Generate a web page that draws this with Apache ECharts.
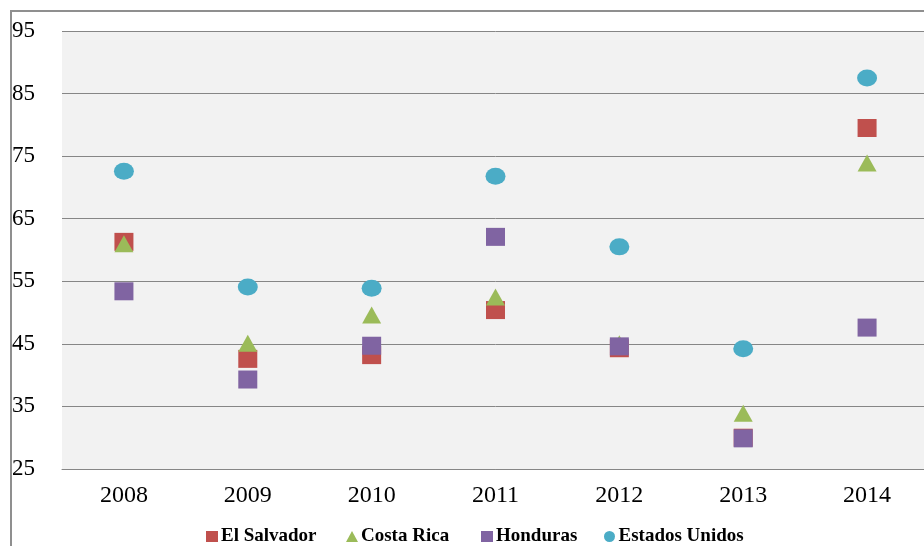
<!DOCTYPE html>
<html>
<head>
<meta charset="utf-8">
<script src="https://cdn.jsdelivr.net/npm/echarts@6/dist/echarts.min.js"></script>
<style>
  html, body { margin: 0; padding: 0; background: #ffffff; overflow: hidden; }
  /* The plot runs a few pixels past the right edge of the window */
  #chart { width: 929px; height: 546px; }
</style>
</head>
<body>
<div id="chart"></div>
<script>
// Years on the category axis
const years = ['2008', '2009', '2010', '2011', '2012', '2013', '2014'];

// One value per year for each country
const elSalvador    = [61.3, 42.6, 43.2, 50.4, 44.3, 30.0, 79.5];
const costaRica     = [61.0, 45.1, 49.6, 52.5, 45.0, 33.9, 73.9];
const honduras      = [53.4, 39.3, 44.7, 62.1, 44.6, 29.9, 47.6];
const estadosUnidos = [72.6, 54.1, 53.9, 71.8, 60.5, 44.2, 87.5];

const seriesNames = ['El Salvador', 'Costa Rica', 'Honduras', 'Estados Unidos'];

// Value axis range
const yMin = 25;
const yMax = 95;
const yStep = 10;

const serif = '"Liberation Serif", "Times New Roman", serif';

const chart = echarts.init(document.getElementById('chart'), null, { renderer: 'canvas' });

function legendAt(name, left) {
  return {
    data: [name],
    left: left,
    top: 527,
    orient: 'horizontal',
    itemWidth: 12,
    itemHeight: 11,
    itemGap: 0,
    padding: 0,
    textStyle: {
      fontFamily: serif,
      fontWeight: 'bold',
      fontSize: 19,
      color: '#000000',
      padding: [0, 0, 0, -2]
    },
    selectedMode: false
  };
}

const option = {
  backgroundColor: '#ffffff',
  animation: false,
  grid: {
    left: 62,
    right: 0,
    top: 31,
    bottom: 77,
    show: true,
    backgroundColor: '#f2f2f2',
    borderWidth: 0
  },
  legend: [
    legendAt('El Salvador', 206),
    legendAt('Costa Rica', 346),
    legendAt('Honduras', 481),
    legendAt('Estados Unidos', 604)
  ],
  graphic: [
    {
      type: 'polyline',
      shape: { points: [[11, 546], [11, 11], [929, 11]] },
      style: { stroke: '#8f8f8f', lineWidth: 2, fill: null },
      silent: true
    }
  ],
  xAxis: {
    type: 'category',
    data: years,
    boundaryGap: true,
    axisLine: { show: true, lineStyle: { color: '#868686', width: 1 } },
    axisTick: { show: false },
    axisLabel: {
      margin: 15,
      fontFamily: serif,
      fontSize: 24,
      color: '#000000'
    },
    splitLine: { show: false }
  },
  yAxis: {
    type: 'value',
    min: yMin,
    max: yMax,
    interval: yStep,
    axisLine: { show: false },
    axisTick: { show: false },
    axisLabel: {
      align: 'left',
      margin: 50,
      fontFamily: serif,
      fontSize: 23,
      color: '#000000',
      padding: [3, 0, 0, 0]
    },
    splitLine: { show: true, lineStyle: { color: '#868686', width: 1 } }
  },
  series: [
    {
      name: seriesNames[0],
      type: 'scatter',
      data: elSalvador,
      symbol: 'rect',
      symbolSize: [19, 18],
      itemStyle: { color: '#c0504d', opacity: 1 }
    },
    {
      name: seriesNames[1],
      type: 'scatter',
      data: costaRica,
      symbol: 'triangle',
      symbolSize: [19, 17],
      itemStyle: { color: '#9bbb59', opacity: 1 }
    },
    {
      name: seriesNames[2],
      type: 'scatter',
      data: honduras,
      symbol: 'rect',
      symbolSize: [19, 18],
      itemStyle: { color: '#8064a2', opacity: 1 }
    },
    {
      name: seriesNames[3],
      type: 'scatter',
      data: estadosUnidos,
      symbol: 'circle',
      symbolSize: [20, 17],
      itemStyle: { color: '#4bacc6', opacity: 1 }
    }
  ]
};

chart.setOption(option);
</script>
</body>
</html>
